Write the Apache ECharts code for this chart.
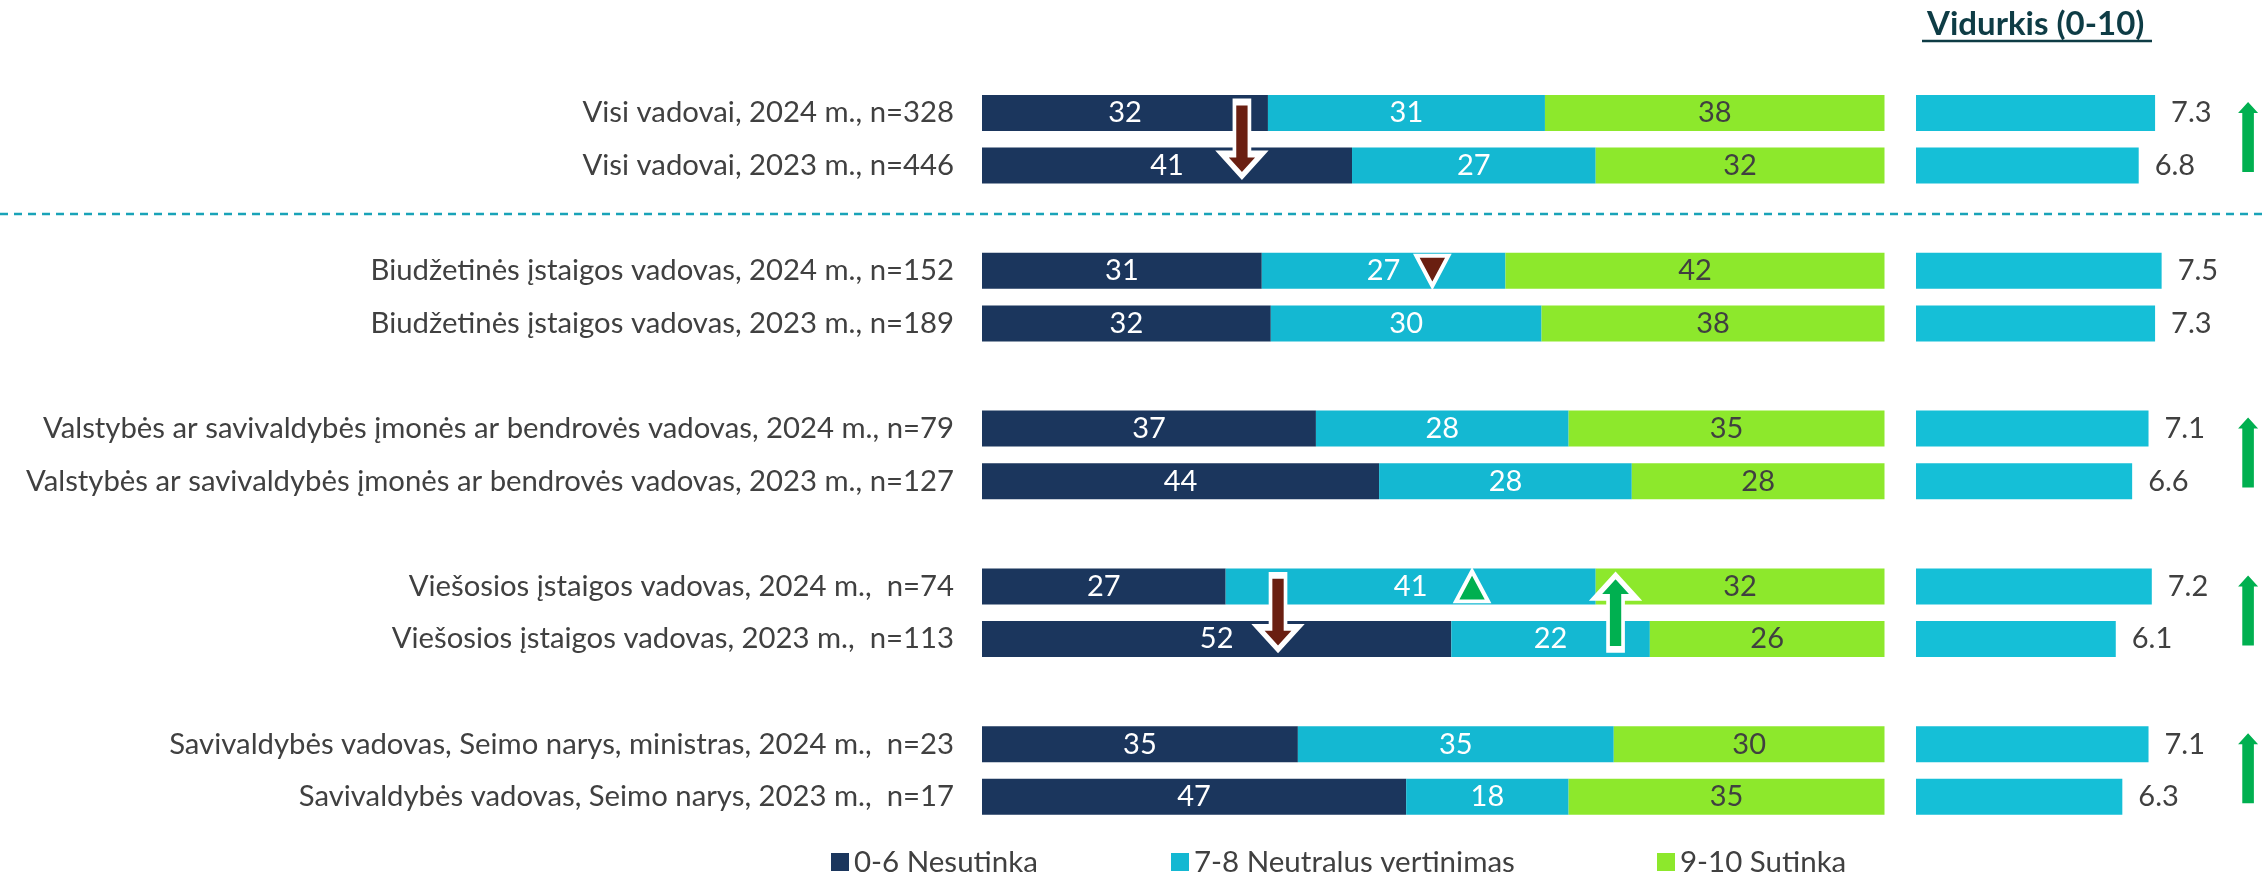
<!DOCTYPE html>
<html>
<head>
<meta charset="utf-8">
<script src="https://cdn.jsdelivr.net/npm/echarts@6/dist/echarts.min.js"></script>
<style>
  html, body { margin: 0; padding: 0; background: #fff; }
  #main { width: 2266px; height: 874px; }
</style>
</head>
<body>
<div id="main"></div>
<script>
// row labels, top to bottom
var labels = [
	'Visi vadovai, 2024 m., n=328',
	'Visi vadovai, 2023 m., n=446',
	'Biudžetinės įstaigos vadovas, 2024 m., n=152',
	'Biudžetinės įstaigos vadovas, 2023 m., n=189',
	'Valstybės ar savivaldybės įmonės ar bendrovės vadovas, 2024 m., n=79',
	'Valstybės ar savivaldybės įmonės ar bendrovės vadovas, 2023 m., n=127',
	'Viešosios įstaigos vadovas, 2024 m.,  n=74',
	'Viešosios įstaigos vadovas, 2023 m.,  n=113',
	'Savivaldybės vadovas, Seimo narys, ministras, 2024 m.,  n=23',
	'Savivaldybės vadovas, Seimo narys, 2023 m.,  n=17'
];
var nesutinka = [32, 41, 31, 32, 37, 44, 27, 52, 35, 47];
var neutralus = [31, 27, 27, 30, 28, 28, 41, 22, 35, 18];
var sutinka   = [38, 32, 42, 38, 35, 28, 32, 26, 30, 35];
var vidurkis  = [7.3, 6.8, 7.5, 7.3, 7.1, 6.6, 7.2, 6.1, 7.1, 6.3];

// change markers: [position on the % scale, row]
var longDown = [[28.8, 0], [32.8, 6]];
var longUp   = [[70.2, 6]];
var triDown  = [[49.9, 2]];
var triUp    = [[54.3, 6]];
// pairs where the average went up (first row of the pair)
var meanUpRows = [0, 4, 6, 8];

var FONT = 'Lato, "Noto Sans", sans-serif';
var TXT = '#404040';

var chart = echarts.init(document.getElementById('main'));

// empty category between every pair of rows
var cats = [], slots = [];
labels.forEach(function(l, i) {
	if (i > 0 && i % 2 === 0) cats.push(' '.repeat(i / 2));
	slots.push(cats.length);
	cats.push(l);
});
var totals = labels.map(function(l, i) { return nesutinka[i] + neutralus[i] + sutinka[i]; });

function emptyRows() { return cats.map(function() { return null; }); }

function pctSeries(name, arr, color, labelColor) {
	var data = emptyRows();
	arr.forEach(function(v, i) {
		data[slots[i]] = { value: v / totals[i] * 100, raw: v };
	});
	return {
		name: name,
		type: 'bar',
		stack: 'all',
		xAxisIndex: 0,
		yAxisIndex: 0,
		barWidth: 36,
		itemStyle: { color: color },
		label: {
			show: true,
			position: 'inside',
			color: labelColor,
			fontSize: 29,
			fontFamily: FONT,
			formatter: function(p) { return p.data ? p.data.raw : ''; }
		},
		data: data
	};
}

function marker(points, path, size, color, offset, border, axis) {
	return {
		type: 'scatter',
		xAxisIndex: axis,
		yAxisIndex: axis,
		symbol: path,
		symbolSize: size,
		symbolOffset: [0, offset],
		clip: false,
		silent: true,
		z: 5,
		itemStyle: { color: color, opacity: 1, borderColor: '#fff', borderWidth: border },
		data: points.map(function(p) { return [p[0], slots[p[1]]]; })
	};
}

var ARROW_DOWN = 'path://M12.5,0L27.5,0L27.5,52L40,52L20,74L0,52L12.5,52Z';
var ARROW_UP = 'path://M12.5,74L27.5,74L27.5,22L40,22L20,0L0,22L12.5,22Z';
var MEAN_UP = 'path://M4.2,70L15.8,70L15.8,11L20,11L10,0L0,11L4.2,11Z';
var TRI_DOWN = 'path://M0,0L10,0L5,10Z';
var TRI_UP = 'path://M0,10L10,10L5,0Z';
var RED = '#6a1f11', GREEN = '#00b050';

var meanData = emptyRows();
vidurkis.forEach(function(v, i) { meanData[slots[i]] = v; });

var gridTop = 86.7, gridH = 736.4;

option = {
	animation: false,
	title: {
		text: 'Vidurkis (0-10)',
		left: 1922,
		top: 3,
		textStyle: { fontFamily: FONT, fontSize: 33, fontWeight: 'bold', color: '#0e3c45' }
	},
	legend: [
		{ data: ['0-6 Nesutinka'], left: 826 },
		{ data: ['7-8 Neutralus vertinimas'], left: 1166 },
		{ data: ['9-10 Sutinka'], left: 1652 }
	].map(function(l) {
		l.top = 842;
		l.icon = 'rect';
		l.itemWidth = 18;
		l.itemHeight = 18;
		l.textStyle = { fontFamily: FONT, fontSize: 29.5, color: TXT };
		return l;
	}),
	grid: [
		{ left: 982, top: gridTop, width: 902.5, height: gridH, outerBoundsMode: 'none' },
		{ left: 1916, top: gridTop, width: 327.5, height: gridH, outerBoundsMode: 'none' }
	],
	xAxis: [
		{ type: 'value', gridIndex: 0, min: 0, max: 100, show: false },
		{ type: 'value', gridIndex: 1, min: 0, max: 10, show: false }
	],
	yAxis: [
		{
			type: 'category', gridIndex: 0, data: cats, inverse: true,
			axisLine: { show: false }, axisTick: { show: false },
			axisLabel: { fontFamily: FONT, fontSize: 29.3, color: TXT, margin: 28 }
		},
		{ type: 'category', gridIndex: 1, data: cats, inverse: true, show: false }
	],
	graphic: [
		{
			type: 'line', silent: true,
			shape: { x1: 0, y1: 214, x2: 2266, y2: 214 },
			style: { stroke: '#19a3b8', lineWidth: 2.5, lineDash: [8, 6] }
		},
		{
			type: 'line', silent: true,
			shape: { x1: 1922, y1: 41, x2: 2152, y2: 41 },
			style: { stroke: '#0e3c45', lineWidth: 2.5 }
		}
	],
	series: [
		pctSeries('0-6 Nesutinka', nesutinka, '#1b365d', '#fff'),
		pctSeries('7-8 Neutralus vertinimas', neutralus, '#14b8d2', '#fff'),
		pctSeries('9-10 Sutinka', sutinka, '#8de82c', TXT),
		{
			name: 'Vidurkis (0-10)',
			type: 'bar',
			xAxisIndex: 1,
			yAxisIndex: 1,
			barWidth: 36,
			itemStyle: { color: '#15bfd7' },
			label: {
				show: true, position: 'right', distance: 16,
				color: TXT, fontSize: 29, fontFamily: FONT,
				formatter: function(p) { return p.value.toFixed(1); }
			},
			data: meanData
		},
		marker(longDown, ARROW_DOWN, [40, 74], RED, 26, 5, 0),
		marker(longUp, ARROW_UP, [40, 74], GREEN, 26, 5, 0),
		marker(triDown, TRI_DOWN, [32, 30], RED, 0, 4, 0),
		marker(triUp, TRI_UP, [32, 30], GREEN, 0, 4, 0),
		marker(meanUpRows.map(function(r) { return [10.14, r]; }), MEAN_UP, [20, 70], GREEN, 24, 0, 1)
	]
};
chart.setOption(option);
</script>
</body>
</html>
